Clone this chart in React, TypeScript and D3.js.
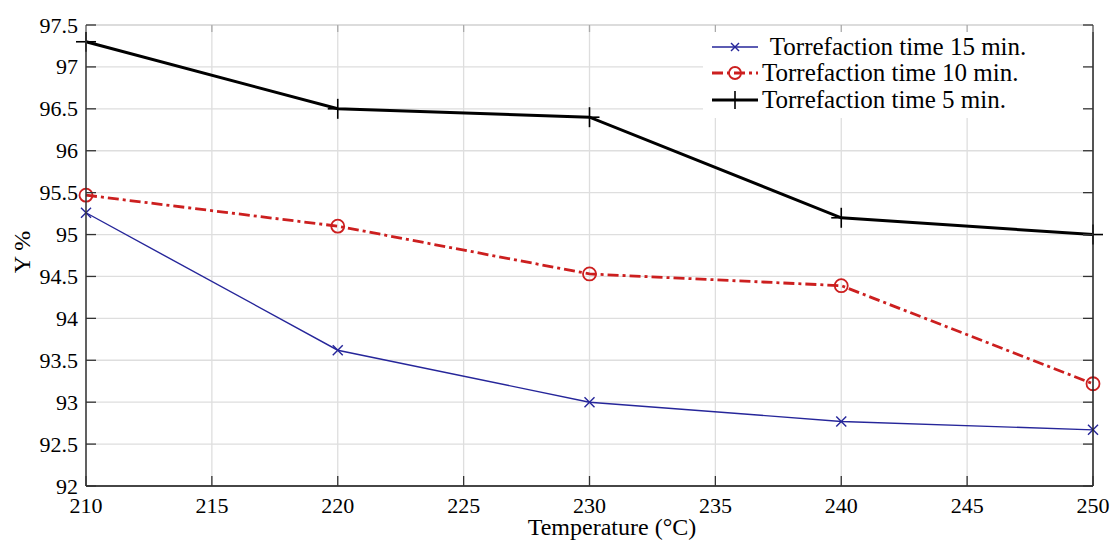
import React from "react";
import * as d3 from "d3";

const temps = [210, 220, 230, 240, 250];
const time15 = [95.26, 93.62, 93.0, 92.77, 92.67];
const time10 = [95.47, 95.1, 94.53, 94.39, 93.22];
const time5 = [97.3, 96.5, 96.4, 95.2, 95.0];
const xTicks = [210, 215, 220, 225, 230, 235, 240, 245, 250];
const yTicks = [92, 92.5, 93, 93.5, 94, 94.5, 95, 95.5, 96, 96.5, 97, 97.5];
const legendLabels = [" Torrefaction time 15 min.", "Torrefaction time 10 min.", "Torrefaction time 5 min."];

const W = 1114, H = 540;
const L = 86, R = 1093, T = 25, B = 486;
const FONT = "'Liberation Serif', 'Times New Roman', serif";

export default function App() {
  const x = d3.scaleLinear().domain([210, 250]).range([L, R]);
  const y = d3.scaleLinear().domain([92, 97.5]).range([B, T]);
  const line = d3.line<[number, number]>().x(d => x(d[0])).y(d => y(d[1]));
  const s15 = temps.map((t, i) => [t, time15[i]] as [number, number]);
  const s10 = temps.map((t, i) => [t, time10[i]] as [number, number]);
  const s5 = temps.map((t, i) => [t, time5[i]] as [number, number]);
  const blue = "#26269a";
  const red = "#cc1f1f";
  const xMark = (cx: number, cy: number, s: number, col: string, sw: number, k: string) => (
    <g key={k} stroke={col} strokeWidth={sw}>
      <line x1={cx - s} y1={cy - s} x2={cx + s} y2={cy + s} />
      <line x1={cx - s} y1={cy + s} x2={cx + s} y2={cy - s} />
    </g>
  );
  const plusMark = (cx: number, cy: number, s: number, col: string, sw: number, k: string) => (
    <g key={k} stroke={col} strokeWidth={sw}>
      <line x1={cx - s} y1={cy} x2={cx + s} y2={cy} />
      <line x1={cx} y1={cy - s} x2={cx} y2={cy + s} />
    </g>
  );
  const legY = [47, 73, 100];
  const legX1 = 712, legX2 = 758;
  return (
    <svg width={W} height={H} style={{ position: "absolute", left: 0, top: 0, background: "#fff" }}>
      <rect x={0} y={0} width={W} height={H} fill="#fff" />
      {/* grid */}
      <g stroke="#dedede" strokeWidth={1.3}>
        {xTicks.map(t => <line key={"gx" + t} x1={x(t)} x2={x(t)} y1={T} y2={B} />)}
        {yTicks.map(t => <line key={"gy" + t} x1={L} x2={R} y1={y(t)} y2={y(t)} />)}
      </g>
      {/* series */}
      <path d={line(s15) || ""} fill="none" stroke={blue} strokeWidth={1.4} />
      {s15.map((d, i) => xMark(x(d[0]), y(d[1]), 5, blue, 1.4, "m15" + i))}
      <path d={line(s10) || ""} fill="none" stroke={red} strokeWidth={2.8} strokeDasharray="11,4,3,4" />
      {s10.map((d, i) => <circle key={"m10" + i} cx={x(d[0])} cy={y(d[1])} r={6.5} fill="none" stroke={red} strokeWidth={1.8} />)}
      <path d={line(s5) || ""} fill="none" stroke="#000" strokeWidth={3} />
      {s5.map((d, i) => plusMark(x(d[0]), y(d[1]), 10, "#000", 1.6, "m5" + i))}
      {/* legend */}
      <rect x={703} y={T + 1} width={R - 703} height={92} fill="#fff" />
      <line x1={legX1} x2={legX2} y1={legY[0]} y2={legY[0]} stroke={blue} strokeWidth={1.4} />
      {xMark((legX1 + legX2) / 2, legY[0], 4, blue, 1.4, "lg0")}
      <line x1={legX1} x2={legX2} y1={legY[1]} y2={legY[1]} stroke={red} strokeWidth={2.8} strokeDasharray="11,4,3,4" />
      <circle cx={(legX1 + legX2) / 2} cy={legY[1]} r={6} fill="none" stroke={red} strokeWidth={1.8} />
      <line x1={legX1} x2={legX2} y1={legY[2]} y2={legY[2]} stroke="#000" strokeWidth={3} />
      {plusMark((legX1 + legX2) / 2, legY[2], 9, "#000", 1.6, "lg2")}
      {legendLabels.map((lab, i) => (
        <text key={"lt" + i} x={i === 0 ? 764 : 762} y={legY[i] + 8} fontFamily={FONT} fontSize={25} fill="#000" style={{ whiteSpace: "pre" }}>{lab}</text>
      ))}
      {/* axes box */}
      <line x1={L} x2={R} y1={T} y2={T} stroke="#d8d8d8" strokeWidth={1.3} />
      <line x1={L} x2={L} y1={T} y2={B} stroke="#333" strokeWidth={1.5} />
      <line x1={R} x2={R} y1={T} y2={B} stroke="#222" strokeWidth={1.5} />
      <line x1={L} x2={R} y1={B} y2={B} stroke="#111" strokeWidth={1.5} />
      {/* ticks */}
      <g stroke="#333" strokeWidth={1.3}>
        {xTicks.map(t => <line key={"tb" + t} x1={x(t)} x2={x(t)} y1={B} y2={B - 10} />)}
        {xTicks.map(t => <line key={"tt" + t} x1={x(t)} x2={x(t)} y1={T} y2={T + 7} stroke="#aaa" />)}
        {yTicks.map(t => <line key={"tl" + t} x1={L} x2={L + 10} y1={y(t)} y2={y(t)} />)}
        {yTicks.map(t => <line key={"tr" + t} x1={R} x2={R - 10} y1={y(t)} y2={y(t)} />)}
      </g>
      {/* tick labels */}
      {xTicks.map(t => (
        <text key={"xl" + t} x={x(t)} y={513} textAnchor="middle" fontFamily={FONT} fontSize={22} fill="#000">{t}</text>
      ))}
      {yTicks.map(t => (
        <text key={"yl" + t} x={78} y={y(t) + 7.5} textAnchor="end" fontFamily={FONT} fontSize={22} fill="#000">{t}</text>
      ))}
      <text x={612} y={535} textAnchor="middle" fontFamily={FONT} fontSize={24} fill="#000">Temperature (°C)</text>
      <text transform={`translate(30,252) rotate(-90)`} textAnchor="middle" fontFamily={FONT} fontSize={24} fill="#000">Y %</text>
    </svg>
  );
}
